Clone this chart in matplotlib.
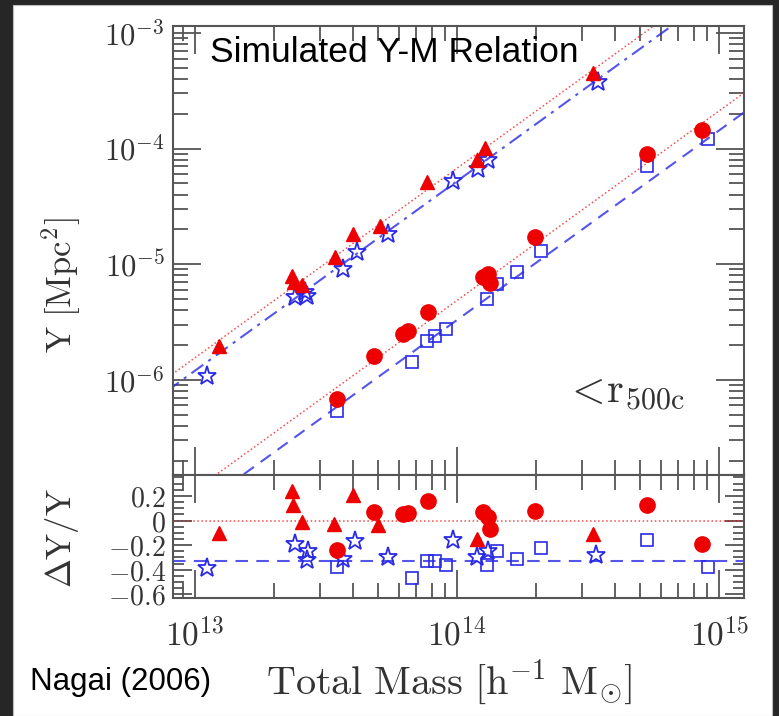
import numpy as np
import matplotlib
matplotlib.use("Agg")
import matplotlib.pyplot as plt
from matplotlib import ticker
from matplotlib.patches import Rectangle

plt.rcParams['mathtext.fontset'] = 'cm'
plt.rcParams['font.family'] = 'DejaVu Serif'

# --- upper set: triangles (red) and stars (blue) ---
m_tri = [1.24e13, 2.35e13, 2.38e13, 2.56e13, 3.42e13, 4.01e13, 5.08e13, 7.67e13, 1.19e14, 1.28e14, 3.30e14]
y_tri = [1.96e-6, 7.9e-6, 7.0e-6, 6.6e-6, 1.15e-5, 1.82e-5, 2.13e-5, 5.1e-5, 8.0e-5, 1.02e-4, 4.5e-4]
m_star = [1.11e13, 2.41e13, 2.67e13, 2.62e13, 3.67e13, 4.15e13, 5.45e13, 9.65e13, 1.20e14, 1.31e14, 3.45e14]
y_star = [1.08e-6, 5.2e-6, 5.3e-6, 5.8e-6, 9.06e-6, 1.27e-5, 1.82e-5, 5.2e-5, 6.6e-5, 8.0e-5, 3.8e-4]

# --- lower set: circles (red) and squares (blue) ---
m_circ = [3.49e13, 4.82e13, 6.22e13, 6.50e13, 7.75e13, 1.26e14, 1.31e14, 1.34e14, 1.99e14, 5.31e14, 8.61e14]
y_circ = [6.86e-7, 1.61e-6, 2.50e-6, 2.64e-6, 3.85e-6, 7.73e-6, 8.2e-6, 6.9e-6, 1.71e-5, 9.06e-5, 1.46e-4]
m_sq = [3.49e13, 6.73e13, 7.67e13, 8.24e13, 9.08e13, 1.30e14, 1.42e14, 1.70e14, 2.10e14, 5.31e14, 9.08e14]
y_sq = [5.4e-7, 1.43e-6, 2.17e-6, 2.39e-6, 2.75e-6, 4.99e-6, 6.7e-6, 8.5e-6, 1.29e-5, 7.0e-5, 1.22e-4]

# --- residuals dY/Y ---
r_tri_m = [1.24e13, 2.35e13, 2.37e13, 2.56e13, 3.40e13, 4.00e13, 5.00e13, 1.19e14, 3.30e14]
r_tri = [-0.10, 0.24, 0.13, -0.01, -0.03, 0.21, -0.04, -0.15, -0.11]
r_star_m = [1.11e13, 2.41e13, 2.70e13, 2.67e13, 3.67e13, 4.08e13, 5.45e13, 9.65e13, 1.19e14, 1.31e14, 3.40e14]
r_star = [-0.39, -0.19, -0.25, -0.32, -0.31, -0.17, -0.30, -0.16, -0.30, -0.25, -0.28]
r_circ_m = [3.49e13, 4.82e13, 6.22e13, 6.50e13, 7.75e13, 1.26e14, 1.31e14, 1.34e14, 1.99e14, 5.31e14, 8.61e14]
r_circ = [-0.24, 0.07, 0.05, 0.06, 0.16, 0.07, 0.03, -0.07, 0.08, 0.13, -0.19]
r_sq_m = [3.49e13, 6.73e13, 7.67e13, 8.24e13, 9.08e13, 1.30e14, 1.42e14, 1.70e14, 2.10e14, 5.31e14, 9.08e14]
r_sq = [-0.38, -0.47, -0.33, -0.33, -0.36, -0.36, -0.25, -0.31, -0.22, -0.16, -0.38]

# fit lines: log10 Y at M = 1e14 and common slope
slope = 1.64
norm_red_up, norm_blue_up = -4.170, -4.282
norm_red_lo, norm_blue_lo = -5.314, -5.483
resid_blue = -0.33

RED = '#ee0000'
BLUE = '#2a2ae6'

fig = plt.figure(figsize=(7.79, 7.16), dpi=100, facecolor='#262626')
fig.patches.append(Rectangle((13 / 779, 0), 759 / 779, 711 / 716, transform=fig.transFigure,
                             facecolor='white', edgecolor='#bbbbbb', lw=0.8, zorder=-10))

ax = fig.add_axes([0.2221, 0.3366, 0.733, 0.6271])
ax2 = fig.add_axes([0.2221, 0.1648, 0.733, 0.1718], sharex=ax)

xlim = (8.25e12, 1.245e15)
mm = np.logspace(12.8, 15.2, 50)


def fit(norm):
    return 10 ** (norm + slope * (np.log10(mm) - 14))


ax.plot(mm, fit(norm_red_up), ':', color=RED, lw=1.1, alpha=0.7)
ax.plot(mm, fit(norm_blue_up), '-.', color=BLUE, lw=1.5, alpha=0.8, dashes=(7, 3, 1.5, 3))
ax.plot(mm, fit(norm_red_lo), ':', color=RED, lw=1.1, alpha=0.7)
ax.plot(mm, fit(norm_blue_lo), '--', color=BLUE, lw=1.5, alpha=0.8, dashes=(6, 4))

ax.plot(m_star, y_star, '*', ms=14, mfc='none', mec=BLUE, mew=1.3, ls='none')
ax.plot(m_tri, y_tri, '^', ms=10.5, color=RED, ls='none')
ax.plot(m_sq, y_sq, 's', ms=9, mfc='none', mec=BLUE, mew=1.2, ls='none')
ax.plot(m_circ, y_circ, 'o', ms=11, color=RED, ls='none')

ax.set_xscale('log')
ax.set_yscale('log')
ax.set_xlim(*xlim)
ax.set_ylim(1.5e-7, 1.15e-3)

ax2.axhline(0, color=RED, ls=':', lw=1.1, alpha=0.7)
ax2.axhline(resid_blue, color=BLUE, lw=1.5, alpha=0.8, dashes=(6, 4))
ax2.plot(r_star_m, r_star, '*', ms=14, mfc='none', mec=BLUE, mew=1.3, ls='none')
ax2.plot(r_sq_m, r_sq, 's', ms=9, mfc='none', mec=BLUE, mew=1.2, ls='none')
ax2.plot(r_tri_m, r_tri, '^', ms=10.5, color=RED, ls='none')
ax2.plot(r_circ_m, r_circ, 'o', ms=11, color=RED, ls='none')
ax2.set_ylim(-0.63, 0.37)

for a in (ax, ax2):
    for s in a.spines.values():
        s.set_color('#555555')
        s.set_linewidth(1.5)
    a.tick_params(which='both', direction='in', top=True, right=True, color='#555555', width=1.3)
    a.tick_params(which='major', length=20)
    a.tick_params(which='minor', length=11)

ax.yaxis.set_major_locator(ticker.LogLocator(base=10, numticks=10))
ax.yaxis.set_minor_locator(ticker.LogLocator(base=10, subs=np.arange(2, 10), numticks=20))
ax.yaxis.set_major_formatter(ticker.FuncFormatter(lambda v, p: r'$10^{%d}$' % round(np.log10(v))))
ax.yaxis.set_minor_formatter(ticker.NullFormatter())
ax.tick_params(axis='y', labelsize=22, pad=6, labelcolor='#333333')
ax.tick_params(axis='x', labelbottom=False)

ax2.xaxis.set_major_formatter(ticker.FuncFormatter(lambda v, p: r'$10^{%d}$' % round(np.log10(v))))
ax2.xaxis.set_minor_formatter(ticker.NullFormatter())
ax2.tick_params(axis='x', labelsize=24, pad=14, labelcolor='#333333')
ax2.yaxis.set_major_locator(ticker.MultipleLocator(0.2))
ax2.yaxis.set_minor_locator(ticker.MultipleLocator(0.05))
ax2.yaxis.set_major_formatter(ticker.FuncFormatter(
    lambda v, p: r'$0$' if abs(v) < 1e-9 else r'$%.1f$' % v))
ax2.tick_params(axis='y', which='major', length=14)
ax2.tick_params(axis='y', which='minor', length=8)
ax2.tick_params(axis='y', labelsize=20, pad=5, labelcolor='#333333')

fig.text(0.078, 0.602, r'$\mathrm{Y\ [Mpc^2]}$', rotation=90, fontsize=25,
         ha='center', va='center', color='#333333')
fig.text(0.080, 0.249, r'$\Delta\mathrm{Y/Y}$', rotation=90, fontsize=25,
         ha='center', va='center', color='#333333')
fig.text(0.576, 0.046, r'$\mathrm{Total\ Mass\ [h^{-1}\ M_{\odot}]}$', fontsize=29,
         ha='center', va='center', color='#333333')
ax.text(0.79, 0.185, r'$<\!\mathrm{r}_{\mathrm{500c}}$', transform=ax.transAxes, fontsize=31,
        ha='center', va='center', color='#333333')

fig.text(210 / 779, 1 - 62 / 716, 'Simulated Y-M Relation', family='Liberation Sans',
         fontsize=25.5, ha='left', va='baseline', color='black')
fig.text(30 / 779, 1 - 690 / 716, 'Nagai (2006)', family='Liberation Sans',
         fontsize=22.5, ha='left', va='baseline', color='black')

fig.savefig('out.png', dpi=100, facecolor=fig.get_facecolor())
